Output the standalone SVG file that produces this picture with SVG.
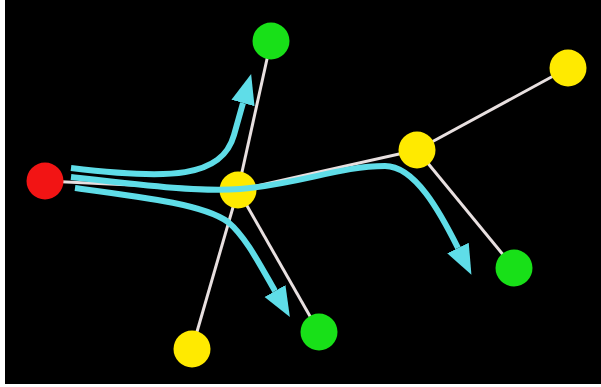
<svg xmlns="http://www.w3.org/2000/svg" width="601" height="387" viewBox="0 0 601 387">
<style>
.edge{stroke:#e8e0e0;stroke-width:3;fill:none}
.flow{stroke:#5fdde8;stroke-width:6;fill:none;stroke-linecap:butt;marker-end:url(#ah)}
.red{fill:#f21414}
.yel{fill:#ffea00}
.grn{fill:#18e018}
</style>
<defs>
<marker id="ah" markerUnits="userSpaceOnUse" markerWidth="32" markerHeight="26" refX="0" refY="13" orient="auto">
<path d="M0,1 L30,13 L0,25 Z" fill="#5fdde8"/>
</marker>
</defs>
<rect x="0" y="0" width="601" height="387" fill="#ffffff"/>
<rect x="5" y="0" width="596" height="384" fill="#000000"/>
<g id="connectors">
<line class="edge" x1="45" y1="181" x2="238" y2="190"/>
<line class="edge" x1="238" y1="190" x2="271" y2="41"/>
<line class="edge" x1="238" y1="190" x2="192" y2="349"/>
<line class="edge" x1="238" y1="190" x2="319" y2="332"/>
<line class="edge" x1="238" y1="190" x2="417" y2="150"/>
<line class="edge" x1="417" y1="150" x2="568" y2="68"/>
<line class="edge" x1="417" y1="150" x2="514" y2="268"/>
</g>
<g id="n-red"><circle class="red" cx="45" cy="181" r="18.5"/></g>
<g id="n-center"><circle class="yel" cx="238" cy="190" r="18.5"/></g>
<g id="n-green-top"><circle class="grn" cx="271" cy="41" r="18.5"/></g>
<g id="n-yellow-topright"><circle class="yel" cx="568" cy="68" r="18.5"/></g>
<g id="n-yellow-right"><circle class="yel" cx="417" cy="150" r="18.5"/></g>
<g id="n-green-right"><circle class="grn" cx="514" cy="268" r="18.5"/></g>
<g id="n-green-bottom"><circle class="grn" cx="319" cy="332" r="18.5"/></g>
<g id="n-yellow-bottom"><circle class="yel" cx="192" cy="349" r="18.5"/></g>
<g id="flows">
<path class="flow" d="M71,168 C170,180 222,178 234,135 L243,103"/>
<path class="flow" d="M71,177 C150,186 200,192 240,189 C300,184 340,166 385,166 C415,166 440,212 458,248"/>
<path class="flow" d="M75,188 C150,198 205,205 228,222 C245,236 259,263 275,291"/>
</g>
</svg>
